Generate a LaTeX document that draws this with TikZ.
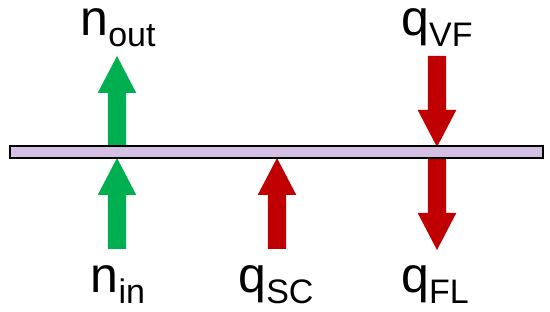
\documentclass[tikz,border=0pt]{standalone}
\usepackage{fontspec}
\setmainfont{Liberation Sans}
\usetikzlibrary{positioning}

\definecolor{fluxgreen}{RGB}{0,176,80}
\definecolor{fluxred}{RGB}{192,0,0}
\definecolor{wallfill}{RGB}{213,192,229}

% main letter with lowered, smaller index
\newcommand{\fluxlabel}[2]{#1\raisebox{-11pt}{\fontsize{34}{34}\selectfont #2}}
% block arrow: colour, x, tail y, tip y
\newcommand{\blockarrow}[4]{%
  \pgfmathsetmacro{\headbase}{#4<#3 ? #4+37 : #4-37}
  \fill[#1] (#2-9.2,#3) -- (#2-9.2,\headbase) -- (#2-19.3,\headbase) -- (#2,#4)
    -- (#2+19.3,\headbase) -- (#2+9.2,\headbase) -- (#2+9.2,#3) -- cycle;
}

\begin{document}
\begin{tikzpicture}[x=1pt, y=-1pt,
    wall/.style={draw=black, line width=2pt, fill=wallfill, inner sep=0pt,
      minimum width=533pt, minimum height=12pt},
    lbl/.style={anchor=base, inner sep=0pt, text height=34pt, text depth=12pt,
      font=\fontsize{50}{50}\selectfont}]
  \useasboundingbox (0,0) rectangle (550,312);
  % Fluxes:
  \blockarrow{fluxgreen}{117}{146}{56}
  \blockarrow{fluxgreen}{117}{249}{158}
  \blockarrow{fluxred}{277}{249}{158}
  \blockarrow{fluxred}{437}{56}{147}
  \blockarrow{fluxred}{437}{158}{250}
  % Wall:
  \node[wall] (wall) at (276.5,152){};
  % Labels:
  \node[lbl] (nout) at (118,36){\fluxlabel{n}{out}};
  \node[lbl] (qvf) at (437,36){\fluxlabel{q}{VF}};
  \node[lbl] (nin) at (118,293){\fluxlabel{n}{in}};
  \node[lbl] (qsc) at (276,293){\fluxlabel{q}{SC}};
  \node[lbl] (qfl) at (435,293){\fluxlabel{q}{FL}};
\end{tikzpicture}
\end{document}
